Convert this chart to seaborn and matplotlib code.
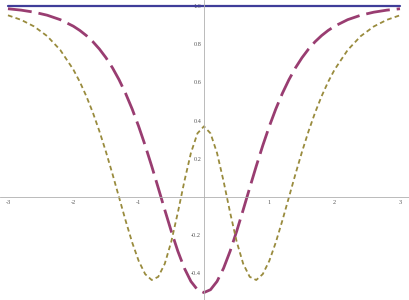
import seaborn as sns
import matplotlib.pyplot as plt
from matplotlib.ticker import MultipleLocator, FuncFormatter

# values
x_vals = [-3.0, -2.8, -2.6, -2.4, -2.2, -2.0, -1.9, -1.8, -1.7, -1.6, -1.5, -1.4, -1.3,
          -1.2, -1.1, -1.0, -0.9, -0.8, -0.7, -0.6, -0.5, -0.4, -0.3, -0.2, -0.1, 0.0,
          0.1, 0.2, 0.3, 0.4, 0.5, 0.6, 0.7, 0.8, 0.9, 1.0, 1.1, 1.2, 1.3, 1.4, 1.5,
          1.6, 1.7, 1.8, 1.9, 2.0, 2.2, 2.4, 2.6, 2.8, 3.0]

purple_y = [0.9852, 0.9780, 0.9673, 0.9514, 0.9281, 0.8940, 0.8716, 0.8447, 0.8125, 0.7742,
            0.7289, 0.6758, 0.6139, 0.5425, 0.4612, 0.3700, 0.2696, 0.1614, 0.0479, -0.0674,
            -0.1797, -0.2835, -0.3727, -0.4416, -0.4851, -0.5000,
            -0.4851, -0.4416, -0.3727, -0.2835, -0.1797, -0.0674, 0.0479, 0.1614, 0.2696,
            0.3700, 0.4612, 0.5425, 0.6139, 0.6758, 0.7289, 0.7742, 0.8125, 0.8447, 0.8716,
            0.8940, 0.9281, 0.9514, 0.9673, 0.9780, 0.9852]

olive_y = [0.9509, 0.9273, 0.8926, 0.8421, 0.7695, 0.6673, 0.6024, 0.5272, 0.4411, 0.3438,
           0.2362, 0.1200, -0.0014, -0.1228, -0.2368, -0.3340, -0.4035, -0.4344, -0.4177,
           -0.3493, -0.2328, -0.0813, 0.0825, 0.2302, 0.3331, 0.3700,
           0.3331, 0.2302, 0.0825, -0.0813, -0.2328, -0.3493, -0.4177, -0.4344, -0.4035,
           -0.3340, -0.2368, -0.1228, -0.0014, 0.1200, 0.2362, 0.3438, 0.4411, 0.5272,
           0.6024, 0.6673, 0.7695, 0.8421, 0.8926, 0.9273, 0.9509]

blue_y = [1.0] * len(x_vals)

sns.set_theme(style="white")
plt.rcParams['font.family'] = ['Liberation Serif', 'DejaVu Serif']

fig = plt.figure(figsize=(4.09, 3.0), dpi=100)
ax = fig.add_axes([0, 0, 1, 1])

sns.lineplot(x=x_vals, y=blue_y, color=(0.2472, 0.24, 0.6), lw=1.6, ax=ax)
sns.lineplot(x=x_vals, y=purple_y, color=(0.6, 0.24, 0.4429), lw=2.0,
             linestyle=(0, (8.6, 2.5)), ax=ax)
sns.lineplot(x=x_vals, y=olive_y, color=(0.6, 0.547, 0.24), lw=1.3,
             linestyle=(0, (2.6, 1.8)), ax=ax)

ax.set_xlim(-3.122, 3.138)
ax.set_ylim(-0.539, 1.031)

for side in ['top', 'right']:
    ax.spines[side].set_visible(False)
for side in ['left', 'bottom']:
    ax.spines[side].set_position('zero')
    ax.spines[side].set_color('#b0b0b0')
    ax.spines[side].set_linewidth(0.6)

ax.xaxis.set_major_locator(MultipleLocator(1))
ax.xaxis.set_minor_locator(MultipleLocator(0.2))
ax.yaxis.set_major_locator(MultipleLocator(0.2))
ax.yaxis.set_minor_locator(MultipleLocator(0.05))

ax.xaxis.set_major_formatter(FuncFormatter(lambda v, p: '' if abs(v) < 1e-9 else f'{v:.0f}'))
ax.yaxis.set_major_formatter(FuncFormatter(lambda v, p: '' if abs(v) < 1e-9 else f'{v:.1f}'))

ax.tick_params(which='both', direction='in', colors='#b0b0b0', labelcolor='#555555',
               labelsize=4.5, width=0.5, pad=2)
ax.tick_params(which='major', length=3.5)
ax.tick_params(which='minor', length=1.8)
ax.set_xlabel('')
ax.set_ylabel('')

fig.savefig('out.png', dpi=100)
